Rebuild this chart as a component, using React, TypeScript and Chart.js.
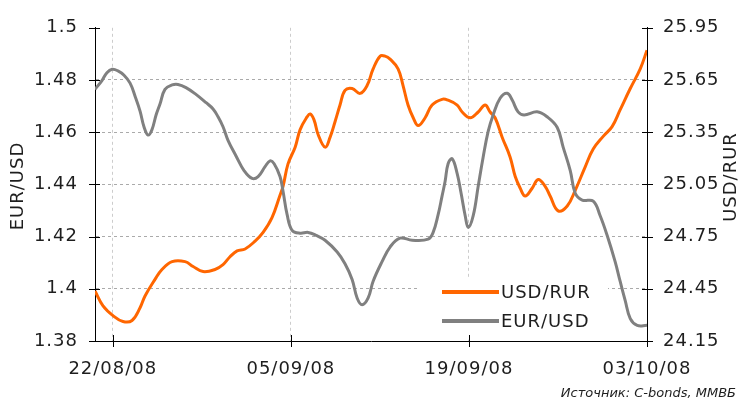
import React, { useEffect, useRef } from 'react';
import { Chart, registerables } from 'chart.js';

Chart.register(...registerables);

// x = trading days since 21/08/08
const xTickValues = [1, 11, 21, 31];
const xTickLabels = ['22/08/08', '05/09/08', '19/09/08', '03/10/08'];
const eurTicks = [1.38, 1.4, 1.42, 1.44, 1.46, 1.48, 1.5];
const rurTicks = [24.15, 24.45, 24.75, 25.05, 25.35, 25.65, 25.95];

const eurUsdX = [0, 0.39, 0.67, 0.96, 1.29, 1.63, 1.97, 2.25, 2.53, 2.75, 2.98, 3.2, 3.43, 3.65, 3.93, 4.33, 4.66, 5.11, 5.67, 6.24, 6.63, 6.91, 7.19, 7.47, 7.92, 8.37, 8.82, 9.16, 9.55, 9.83, 10.06, 10.39, 10.56, 10.79, 11.07, 11.52, 11.97, 12.42, 12.92, 13.6, 14.04, 14.44, 14.72, 15.0, 15.34, 15.62, 16.12, 16.57, 17.13, 17.81, 18.71, 18.99, 19.27, 19.49, 19.66, 19.83, 20.06, 20.34, 20.56, 20.79, 20.96, 21.24, 21.52, 21.8, 22.08, 22.36, 22.75, 23.15, 23.43, 23.76, 24.1, 24.83, 25.39, 25.96, 26.29, 26.69, 26.97, 27.36, 27.98, 28.37, 28.76, 29.21, 29.49, 29.78, 30.06, 30.45, 31.0];
const eurUsd = [1.4764, 1.4798, 1.4828, 1.4841, 1.4835, 1.4818, 1.4788, 1.4738, 1.4681, 1.4621, 1.4589, 1.461, 1.4666, 1.4708, 1.4764, 1.4781, 1.4783, 1.4771, 1.4745, 1.4713, 1.4689, 1.4659, 1.4621, 1.4569, 1.4509, 1.4453, 1.4423, 1.443, 1.4468, 1.449, 1.4479, 1.443, 1.4374, 1.4284, 1.4224, 1.4213, 1.4216, 1.4205, 1.4186, 1.4141, 1.4096, 1.4036, 1.3965, 1.3939, 1.3965, 1.4029, 1.4104, 1.416, 1.4194, 1.4186, 1.419, 1.4216, 1.4284, 1.4355, 1.4411, 1.4479, 1.4498, 1.4441, 1.4366, 1.428, 1.4235, 1.428, 1.4393, 1.4505, 1.4603, 1.4666, 1.473, 1.4749, 1.4723, 1.4678, 1.4666, 1.4678, 1.4659, 1.4618, 1.4543, 1.4453, 1.4366, 1.434, 1.4336, 1.428, 1.4205, 1.4104, 1.4029, 1.3954, 1.3886, 1.386, 1.386];

const usdRurX = [0, 0.45, 1.01, 1.57, 2.08, 2.53, 2.81, 3.37, 3.76, 4.33, 5.06, 5.51, 6.07, 6.74, 7.19, 7.58, 7.98, 8.43, 8.99, 9.44, 9.94, 10.39, 10.56, 10.84, 11.24, 11.52, 11.91, 12.08, 12.3, 12.53, 12.92, 13.2, 13.48, 13.76, 14.04, 14.44, 14.89, 15.28, 15.62, 16.01, 16.29, 16.57, 17.02, 17.3, 17.58, 17.87, 18.15, 18.54, 18.93, 19.49, 19.83, 20.34, 20.62, 21.07, 21.52, 21.91, 22.19, 22.47, 22.87, 23.31, 23.6, 23.88, 24.16, 24.55, 24.89, 25.28, 25.56, 26.01, 26.52, 26.97, 27.53, 27.98, 28.54, 29.04, 29.49, 30.06, 30.62, 31.0];
const usdRur = [24.437, 24.352, 24.296, 24.262, 24.268, 24.341, 24.409, 24.504, 24.561, 24.606, 24.606, 24.578, 24.549, 24.561, 24.589, 24.634, 24.668, 24.679, 24.724, 24.774, 24.859, 24.988, 25.039, 25.168, 25.264, 25.365, 25.438, 25.455, 25.421, 25.337, 25.264, 25.32, 25.41, 25.506, 25.59, 25.601, 25.573, 25.618, 25.714, 25.787, 25.787, 25.77, 25.714, 25.618, 25.506, 25.433, 25.388, 25.433, 25.506, 25.539, 25.534, 25.506, 25.466, 25.433, 25.466, 25.506, 25.466, 25.433, 25.32, 25.208, 25.095, 25.028, 24.983, 25.028, 25.078, 25.039, 24.983, 24.898, 24.926, 25.016, 25.151, 25.253, 25.326, 25.382, 25.478, 25.601, 25.714, 25.821];

const seriesNames = ['USD/RUR', 'EUR/USD'];
const ORANGE = '#FF6600';
const GRAY = '#808080';
const FONT = '"DejaVu Sans", Verdana, sans-serif';
const TEXT = '#1e1e1e';

const decor = {
  id: 'decor',
  beforeDraw(chart: any) {
    chart.ctx.letterSpacing = '1px';
  },
  beforeDatasetsDraw(chart: any) {
    const ctx = chart.ctx;
    ctx.save();
    ctx.fillStyle = '#ffffff';
    ctx.fillRect(418, 277, 190, 62);
    ctx.restore();
  },
  afterDraw(chart: any) {
    const ctx = chart.ctx;
    const ca = chart.chartArea;
    const sx = chart.scales.x;
    const sy = chart.scales.y;
    const sy1 = chart.scales.y1;
    ctx.save();
    ctx.strokeStyle = '#000';
    ctx.lineWidth = 1;
    ctx.beginPath();
    eurTicks.forEach((v) => {
      const y = Math.round(sy.getPixelForValue(v)) + 0.5;
      ctx.moveTo(ca.left - 6, y);
      ctx.lineTo(ca.left + 5, y);
    });
    rurTicks.forEach((v) => {
      const y = Math.round(sy1.getPixelForValue(v)) + 0.5;
      ctx.moveTo(ca.right - 5, y);
      ctx.lineTo(ca.right + 6, y);
    });
    xTickValues.forEach((v) => {
      const x = Math.round(sx.getPixelForValue(v)) + 0.5;
      ctx.moveTo(x, ca.bottom - 6);
      ctx.lineTo(x, ca.bottom + 6);
    });
    ctx.stroke();

    ctx.fillStyle = TEXT;
    ctx.font = '18px ' + FONT;
    ctx.textAlign = 'center';
    ctx.textBaseline = 'middle';
    ctx.save();
    ctx.translate(18, 186);
    ctx.rotate(-Math.PI / 2);
    ctx.fillText(seriesNames[1], 0, 0);
    ctx.restore();
    ctx.save();
    ctx.translate(731, 177);
    ctx.rotate(-Math.PI / 2);
    ctx.fillText(seriesNames[0], 0, 0);
    ctx.restore();

    // legend
    const items = [
      { name: seriesNames[0], color: ORANGE, y: 292 },
      { name: seriesNames[1], color: GRAY, y: 321 },
    ];
    items.forEach((it) => {
      ctx.strokeStyle = it.color;
      ctx.lineWidth = 4;
      ctx.beginPath();
      ctx.moveTo(442, it.y);
      ctx.lineTo(499, it.y);
      ctx.stroke();
      ctx.fillStyle = TEXT;
      ctx.textAlign = 'left';
      ctx.fillText(it.name, 501, it.y + 1);
    });

    ctx.letterSpacing = '0px';
    ctx.font = 'italic 13px ' + FONT;
    ctx.textAlign = 'right';
    ctx.textBaseline = 'alphabetic';
    ctx.fillText('Источник: C-bonds, ММВБ', 736, 397);
    ctx.restore();
  },
};

export default function App() {
  const ref = useRef<HTMLCanvasElement | null>(null);
  useEffect(() => {
    if (!ref.current) return;
    const tickFont = { family: FONT, size: 18 };
    const chart = new Chart(ref.current, {
      type: 'line',
      data: {
        datasets: [
          {
            label: seriesNames[1],
            data: eurUsdX.map((x, i) => ({ x, y: eurUsd[i] })),
            yAxisID: 'y',
            borderColor: GRAY,
            borderWidth: 3,
            pointRadius: 0,
            tension: 0.4,
          },
          {
            label: seriesNames[0],
            data: usdRurX.map((x, i) => ({ x, y: usdRur[i] })),
            yAxisID: 'y1',
            borderColor: ORANGE,
            borderWidth: 3,
            pointRadius: 0,
            tension: 0.4,
          },
        ],
      },
      options: {
        responsive: false,
        animation: false,
        devicePixelRatio: 1,
        layout: { padding: { top: 21, left: 0, right: 0, bottom: 0 } },
        plugins: { legend: { display: false }, tooltip: { enabled: false } },
        scales: {
          x: {
            type: 'linear',
            min: 0,
            max: 31,
            afterBuildTicks: (ax: any) => {
              ax.ticks = xTickValues.map((v) => ({ value: v }));
            },
            afterFit: (s: any) => {
              s.height = 59;
            },
            ticks: {
              autoSkip: false,
              maxRotation: 0,
              padding: 18,
              font: tickFont,
              color: TEXT,
              callback: (v: any) => {
                const i = xTickValues.indexOf(v);
                return i >= 0 ? xTickLabels[i] : '';
              },
            },
            grid: {
              drawTicks: false,
              lineWidth: 1,
              color: (c: any) => (c.tick && c.tick.value === 31 ? 'rgba(0,0,0,0)' : '#cccccc'),
            },
            border: { display: true, color: '#000', width: 1, dash: [3, 3] },
          },
          y: {
            position: 'left',
            min: 1.38,
            max: 1.5,
            afterBuildTicks: (ax: any) => {
              ax.ticks = eurTicks.map((v) => ({ value: v }));
            },
            afterFit: (s: any) => {
              s.width = 95;
            },
            ticks: { padding: 17, font: tickFont, color: TEXT, callback: (v: any) => String(Number(v.toFixed(2))) },
            grid: {
              drawTicks: false,
              lineWidth: 1,
              color: (c: any) =>
                c.tick && (Math.abs(c.tick.value - 1.38) < 1e-6 || Math.abs(c.tick.value - 1.5) < 1e-6)
                  ? 'rgba(0,0,0,0)'
                  : '#aaaaaa',
            },
            border: { display: true, color: '#000', width: 1, dash: [3, 3] },
          },
          y1: {
            position: 'right',
            min: 24.15,
            max: 25.95,
            afterBuildTicks: (ax: any) => {
              ax.ticks = rurTicks.map((v) => ({ value: v }));
            },
            afterFit: (s: any) => {
              s.width = 94;
            },
            ticks: { padding: 16, font: tickFont, color: TEXT, callback: (v: any) => Number(v).toFixed(2) },
            grid: { drawTicks: false, drawOnChartArea: false },
            border: { display: true, color: '#000', width: 1 },
          },
        },
      },
      plugins: [decor],
    } as any);
    return () => chart.destroy();
  }, []);
  return (
    <div style={{ position: 'absolute', left: 0, top: 0, width: 741, height: 400, background: '#fff' }}>
      <canvas ref={ref} width={741} height={400} style={{ width: 741, height: 400, display: 'block' }} />
    </div>
  );
}
